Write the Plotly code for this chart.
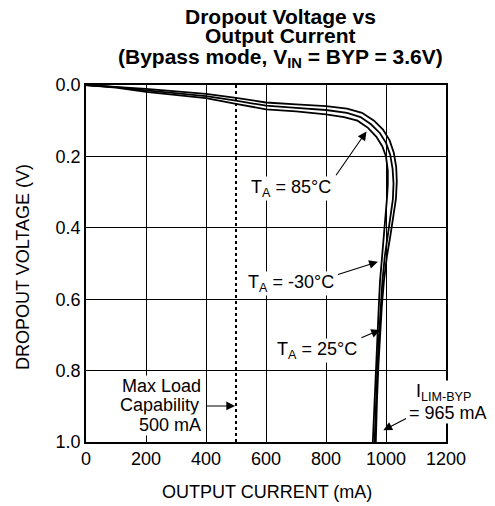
import plotly.graph_objects as go

# Data: output current (mA) vs dropout voltage (V)
i_85 = [0,100,200,300,400,500,600,700,800,870,920,960,990,1012,1026,1034,1036,1033,1025,1015,1003,993,986,980,975,970,966]
v_85 = [0,0.005,0.011,0.018,0.025,0.036,0.049,0.054,0.059,0.066,0.078,0.1,0.125,0.155,0.19,0.23,0.27,0.32,0.37,0.42,0.48,0.55,0.62,0.7,0.78,0.88,1.0]
i_25 = [0,100,200,300,400,500,600,700,800,870,915,950,980,1000,1014,1022,1025,1023,1015,1006,996,988,982,977,972,967,962]
v_25 = [0,0.006,0.015,0.023,0.031,0.044,0.058,0.064,0.07,0.078,0.09,0.11,0.135,0.162,0.195,0.235,0.275,0.32,0.37,0.42,0.48,0.55,0.62,0.7,0.78,0.88,1.0]
i_m30 = [0,100,200,300,400,500,600,700,800,860,905,940,968,988,1000,1006,1006,1003,998,992,985,980,976,972,967,962,956]
v_m30 = [0,0.007,0.019,0.028,0.037,0.053,0.068,0.074,0.082,0.09,0.1,0.12,0.145,0.172,0.2,0.24,0.28,0.32,0.37,0.42,0.48,0.55,0.62,0.7,0.78,0.88,1.0]
max_load = 500
x_ticks = [0, 200, 400, 600, 800, 1000, 1200]
y_ticks = [0.0, 0.2, 0.4, 0.6, 0.8, 1.0]

FONT = "Liberation Sans, Arial, sans-serif"
FS = 18

fig = go.Figure()
for xs, ys, name in [(i_85, v_85, "85"), (i_25, v_25, "25"), (i_m30, v_m30, "-30")]:
    fig.add_trace(go.Scatter(x=xs, y=ys, mode="lines", name=name,
                             line=dict(color="black", width=1.8), showlegend=False))

fig.add_trace(go.Scatter(x=[max_load, max_load], y=[0, 1], mode="lines",
                         line=dict(color="black", width=2, dash="dot"), showlegend=False))

ann_font = dict(family=FONT, size=FS, color="black")
anns = [
    dict(x=683, y=0.29, text="T<sub>A</sub> = 85°C", xanchor="center"),
    dict(x=683, y=0.556, text="T<sub>A</sub> = -30°C", xanchor="center"),
    dict(x=769, y=0.745, text="T<sub>A</sub> = 25°C", xanchor="center"),
    dict(x=385, y=0.843, text="Max Load", xanchor="right"),
    dict(x=380, y=0.896, text="Capability", xanchor="right"),
    dict(x=385, y=0.952, text="500 mA", xanchor="right"),
    dict(x=1095, y=0.86, text="I<sub>LIM-BYP</sub>", xanchor="left"),
    dict(x=1074, y=0.919, text="= 965 mA", xanchor="left"),
]
for a in anns:
    fig.add_annotation(xref="x", yref="y", font=ann_font, showarrow=False,
                       bgcolor="white", borderpad=0, yanchor="middle", **a)

arrows = [
    ((830, 0.257), (935, 0.13)),
    ((835, 0.532), (973, 0.495)),
    ((913, 0.71), (980, 0.686)),
    ((397, 0.899), (497, 0.899)),
    ((1072, 0.932), (991, 0.967)),
]
for (tx, ty), (hx, hy) in arrows:
    fig.add_annotation(x=hx, y=hy, ax=tx, ay=ty, xref="x", yref="y", axref="x", ayref="y",
                       text="", showarrow=True, arrowhead=2, arrowsize=1.6, arrowwidth=1.1,
                       arrowcolor="black", standoff=0)

# Title lines
title_lines = ["Dropout Voltage vs", "Output Current",
               "(Bypass mode, V<sub>IN</sub> = BYP = 3.6V)"]
title_px = [16, 35.5, 57.5]
for t, py in zip(title_lines, title_px):
    fig.add_annotation(xref="paper", yref="paper", x=0.54, y=(442 - py) / 357,
                       text="<b>" + t + "</b>", showarrow=False, xanchor="center", yanchor="middle",
                       font=dict(family=FONT, size=21, color="black"))

# Axis titles
fig.add_annotation(xref="paper", yref="paper", x=0.503, y=(442 - 492) / 357,
                   text="OUTPUT CURRENT (mA)", showarrow=False, xanchor="center", yanchor="middle",
                   font=dict(family=FONT, size=FS, color="black"))
fig.add_annotation(xref="paper", yref="paper", x=(23 - 86) / 360, y=(442 - 267) / 357,
                   text="DROPOUT VOLTAGE (V)", showarrow=False, xanchor="center", yanchor="middle",
                   textangle=-90, font=dict(family=FONT, size=FS, color="black"))

# page body has an 8px default margin, so the figure is 8px smaller and offset
fig.update_layout(
    width=487, height=498,
    margin=dict(l=78, r=49, t=77, b=64, autoexpand=False),
    paper_bgcolor="white", plot_bgcolor="white",
    font=dict(family=FONT, size=FS, color="black"),
)
fig.update_xaxes(range=[0, 1200], tickvals=x_ticks, ticktext=[str(v) for v in x_ticks],
                 showgrid=True, gridcolor="black", gridwidth=1,
                 showline=True, linecolor="black", linewidth=1.5, mirror=True,
                 zeroline=False, ticks="", tickfont=dict(size=FS), automargin=False)
fig.update_yaxes(range=[1, 0], tickvals=y_ticks, ticktext=[f"{v:.1f}" for v in y_ticks],
                 showgrid=True, gridcolor="black", gridwidth=1,
                 showline=True, linecolor="black", linewidth=1.5, mirror=True,
                 zeroline=False, ticks="", tickfont=dict(size=FS), automargin=False)

fig.write_html("out.html")
